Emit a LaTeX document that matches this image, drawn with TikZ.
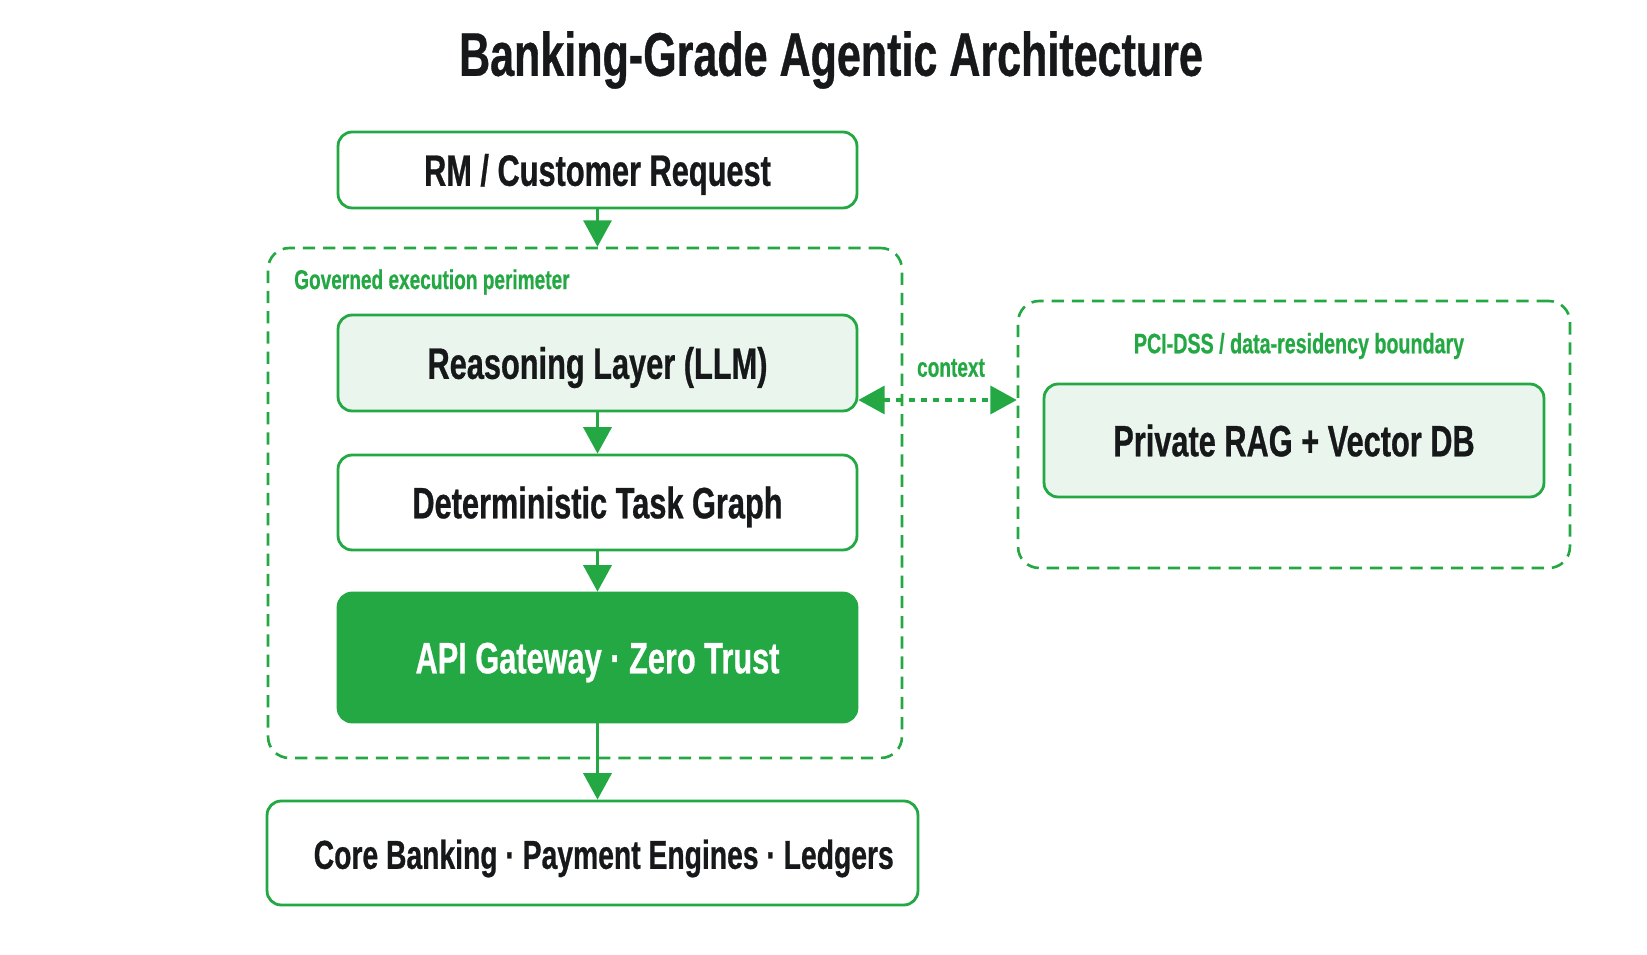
\documentclass[tikz,border=0pt]{standalone}
\usepackage{fontspec}
\setmainfont{Liberation Sans}[FakeStretch=0.70, BoldFeatures={FakeBold=0.6}]
\usetikzlibrary{arrows.meta, positioning, calc}
\definecolor{bankgreen}{RGB}{36,168,68}
\definecolor{banklight}{RGB}{234,246,237}
\definecolor{bankdark}{RGB}{22,24,26}

\begin{document}
\begin{tikzpicture}[
    x=0.02cm, y=-0.02cm,
    lbox/.style={rounded corners=8pt, draw=bankgreen, line width=1.6pt,
        minimum width=10.38cm, text=bankdark, text height=18pt, text depth=0pt,
        font=\bfseries\fontsize{25}{30}\selectfont, align=center},
    zone/.style={rounded corners=12pt, draw=bankgreen, line width=1.5pt,
        dash pattern=on 7pt off 4.5pt},
    zonelabel/.style={text=bankgreen, font=\bfseries\fontsize{15.5}{18}\selectfont},
    flow/.style={-{Triangle[length=15pt, width=16pt]}, line width=1.6pt, bankgreen},
    ctxflow/.style={{Triangle[length=15pt, width=16pt]}-{Triangle[length=15pt, width=16pt]},
        line width=1.8pt, bankgreen, dash pattern=on 3.5pt off 3.5pt}
]
\useasboundingbox (0,0) rectangle (1647,955);

% Title
\node[text=bankdark, font=\bfseries\fontsize{35}{40}\selectfont] (title) at (831,60)
    {Banking-Grade Agentic Architecture};

% Request
\node[lbox, minimum height=1.52cm, fill=white] (req) at (597.5,170) {RM / Customer Request};

% Governed perimeter
\node[zone, minimum width=12.68cm, minimum height=10.2cm] (perim) at (585,503) {};
\node[zonelabel, anchor=west] (govlabel) at (288,282) {Governed execution perimeter};

\node[lbox, minimum height=1.92cm, fill=banklight] (reason) at (597.5,363) {Reasoning Layer (LLM)};
\node[lbox, minimum height=1.9cm, fill=white] (det) at (597.5,502.5) {Deterministic Task Graph};
\node[lbox, minimum height=2.58cm, fill=bankgreen, text=white] (api) at (597.5,657.5)
    {API Gateway · Zero Trust};

% Core systems
\node[lbox, minimum width=13.02cm, minimum height=2.08cm, fill=white,
      font=\bfseries\fontsize{23}{28}\selectfont] (core) at (592.5,853)
    {\hspace*{0.45cm}Core Banking · Payment Engines · Ledgers};

% PCI-DSS boundary
\node[zone, minimum width=11.04cm, minimum height=5.34cm] (pci) at (1294,434.5) {};
\node[zonelabel, font=\bfseries\fontsize{16}{19}\selectfont] (pcilabel) at (1299,346)
    {PCI-DSS / data-residency boundary};
\node[lbox, minimum width=10cm, minimum height=2.26cm, fill=banklight] (rag) at (1294,440.5)
    {Private RAG + Vector DB};

% Connectors
\coordinate (ctxy) at (0,400);
\draw[flow] (req.south) -- (req.south |- perim.north);
\draw[flow] (reason) -- (det);
\draw[flow] (det) -- (api);
\draw[flow] (api.south) -- (api.south |- core.north);
\draw[ctxflow] (reason.east |- ctxy) -- (pci.west |- ctxy);
\node[zonelabel] (ctxlabel) at (951,368) {context};

\end{tikzpicture}
\end{document}
